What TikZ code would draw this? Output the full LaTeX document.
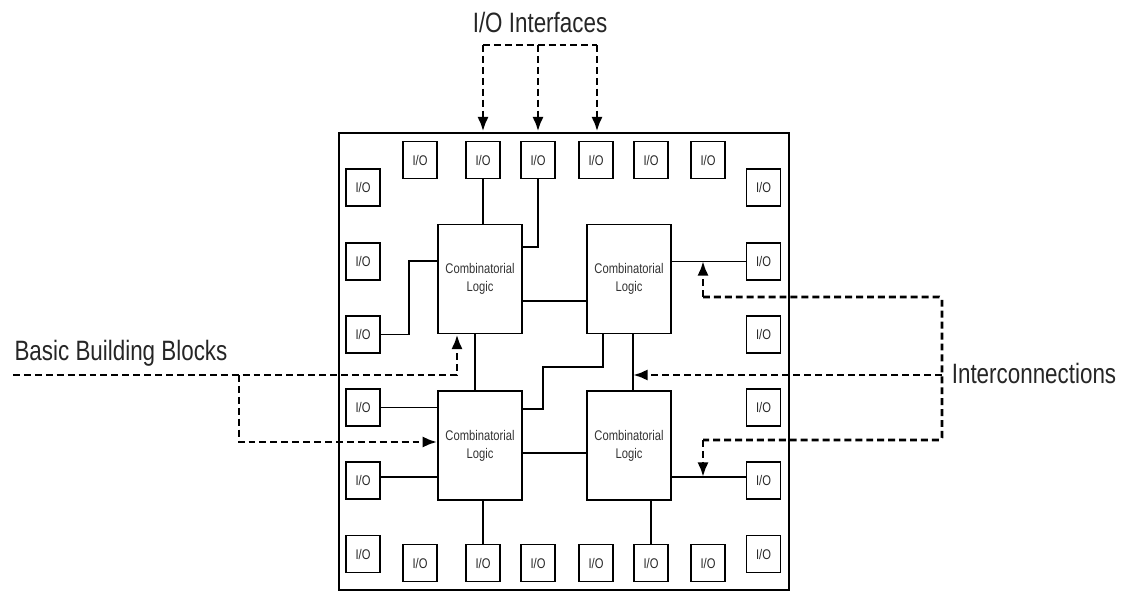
\documentclass[tikz,border=0pt]{standalone}
\usepackage{fontspec}
\setmainfont{Liberation Sans}
\newfontfamily\narrowfont[FakeStretch=0.8]{Liberation Sans}
\usetikzlibrary{arrows.meta}
\tikzset{
  iobox/.style={draw, line width=1.2pt, minimum width=25.5pt, minimum height=27.5pt, inner sep=0pt,
    font=\narrowfont\fontsize{10.5pt}{12pt}\selectfont, text=black!85},
  logicbox/.style={draw, line width=1.2pt, minimum width=63pt, minimum height=82pt, inner sep=0pt, align=center,
    font=\narrowfont\fontsize{10.5pt}{13.5pt}\selectfont, text=black!80},
  chipbox/.style={draw, line width=2.2pt, inner sep=0pt},
  wire/.style={line width=1.1pt},
  callout/.style={line width=2.2pt, dash pattern=on 5.2pt off 3pt},
  calloutarrow/.style={callout, -{Latex[length=11pt,width=8.5pt]}},
  label/.style={font=\narrowfont\fontsize{21pt}{24pt}\selectfont, text=black!85, inner sep=0pt}
}
\begin{document}
\begin{tikzpicture}[x=0.75pt,y=-0.75pt]
\useasboundingbox (0,0) rectangle (1130,592);
% chip outline
\node[chipbox, minimum width=337.5pt, minimum height=342.75pt] (chip) at (564,361.5) {};
% top row
\node[iobox] (T1) at (420,160) {I/O};
\node[iobox] (T2) at (483,160) {I/O};
\node[iobox] (T3) at (538,160) {I/O};
\node[iobox] (T4) at (596,160) {I/O};
\node[iobox] (T5) at (651,160) {I/O};
\node[iobox] (T6) at (708,160) {I/O};
% bottom row
\node[iobox] (B1) at (420,563) {I/O};
\node[iobox] (B2) at (483,563) {I/O};
\node[iobox] (B3) at (538,563) {I/O};
\node[iobox] (B4) at (596,563) {I/O};
\node[iobox] (B5) at (651,563) {I/O};
\node[iobox] (B6) at (708,563) {I/O};
% left column
\node[iobox] (L1) at (363,187.5) {I/O};
\node[iobox] (L2) at (363,261.5) {I/O};
\node[iobox] (L3) at (363,334.5) {I/O};
\node[iobox] (L4) at (363,407.5) {I/O};
\node[iobox] (L5) at (363,480.5) {I/O};
\node[iobox] (L6) at (363,554) {I/O};
% right column
\node[iobox] (R1) at (763.5,187.5) {I/O};
\node[iobox] (R2) at (763.5,261.5) {I/O};
\node[iobox] (R3) at (763.5,334.5) {I/O};
\node[iobox] (R4) at (763.5,407.5) {I/O};
\node[iobox] (R5) at (763.5,480.5) {I/O};
\node[iobox] (R6) at (763.5,554) {I/O};
% logic blocks
\node[logicbox] (TL) at (480,279) {Combinatorial\\Logic};
\node[logicbox] (TR) at (629,279) {Combinatorial\\Logic};
\node[logicbox] (BL) at (480,445.5) {Combinatorial\\Logic};
\node[logicbox] (BR) at (629,445.5) {Combinatorial\\Logic};
% wires
\draw[wire] (T2.south) -- (T2.south |- TL.north);
\draw[wire] (T3.south) |- (TL.east |- 0,247);
\draw[wire] (L3.east) -| (409,261) -- (TL.west |- 0,261);
\draw[wire] (TL.east |- 0,301) -- (TR.west |- 0,301);
\draw[wire] (R2.west) -- (TR.east |- R2.west);
\draw[wire] (TL.south -| 475,0) -- (BL.north -| 475,0);
\draw[wire] (TR.south -| 603,0) |- (543,367) |- (BL.east |- 0,409);
\draw[wire] (TR.south -| 633,0) -- (BR.north -| 633,0);
\draw[wire] (L4.east) -- (BL.west |- L4.east);
\draw[wire] (L5.east |- 0,477) -- (BL.west |- 0,477);
\draw[wire] (BL.east |- 0,453) -- (BR.west |- 0,453);
\draw[wire] (BR.east |- 0,477) -- (R5.west |- 0,477);
\draw[wire] (BL.south -| B2.north) -- (B2.north);
\draw[wire] (BR.south -| B5.north) -- (B5.north);
% labels
\node[label] (lio) at (540,22) {I/O Interfaces};
\node[label] (lbb) at (121,353) {Basic Building Blocks};
\node[label] (lic) at (1034,373) {Interconnections};
% I/O interfaces callout
\coordinate (ioa) at (483,45);
\coordinate (iob) at (538,45);
\coordinate (ioc) at (597,45);
\draw[callout] (ioa) -- (ioc);
\draw[calloutarrow] (ioa) -- (ioa |- chip.north);
\draw[calloutarrow] (iob) -- (iob |- chip.north);
\draw[calloutarrow] (ioc) -- (ioc |- chip.north);
% basic building blocks callout
\coordinate (bba) at (13,375);
\coordinate (bbb) at (239,375);
\coordinate (bbc) at (457,375);
\draw[calloutarrow] (bba) -- (bbc) -- (bbc |- TL.south);
\draw[calloutarrow] (bbb) |- (BL.west |- 0,442);
% interconnections callout
\coordinate (ica) at (942,297);
\coordinate (icb) at (942,375);
\coordinate (icc) at (942,440);
\draw[callout, rounded corners=2pt] (703,297) -- (ica) -- (icc) -- (703,440);
\draw[calloutarrow] (703,297) -- (703,261);
\draw[calloutarrow] (703,440) -- (703,477);
\draw[calloutarrow] (icb) -- (633,375);
\end{tikzpicture}
\end{document}
